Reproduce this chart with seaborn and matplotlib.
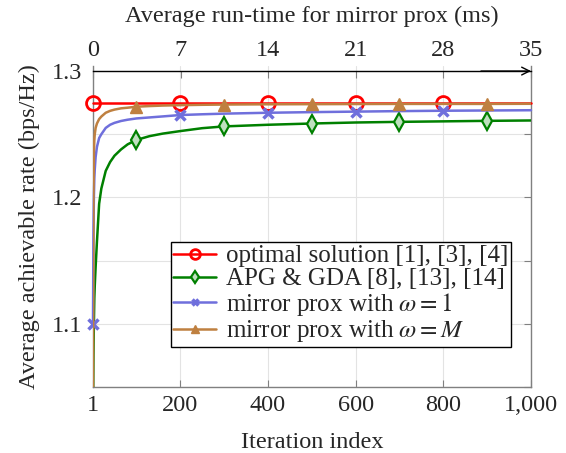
import numpy as np
import pandas as pd
import matplotlib
matplotlib.use("Agg")
import matplotlib.pyplot as plt
import seaborn as sns
from matplotlib.ticker import FixedLocator, FixedFormatter

# ---- data ----
iters = [1, 2, 3, 4, 5, 7, 10, 15, 20, 30, 40, 50, 65, 80, 100, 130, 160, 200,
         250, 300, 400, 500, 600, 700, 800, 900, 1000]
optimal = [1.2745] * len(iters)
apg_gda = [1.03, 1.075, 1.10, 1.12, 1.13, 1.145, 1.165, 1.195, 1.207, 1.221, 1.228,
           1.233, 1.238, 1.242, 1.2455, 1.2485, 1.2505, 1.2525, 1.2548, 1.2562,
           1.2575, 1.2585, 1.2593, 1.2598, 1.2602, 1.2606, 1.2609]
mp_w1 = [1.10, 1.17, 1.20, 1.215, 1.222, 1.232, 1.240, 1.247, 1.250, 1.255, 1.2575,
         1.259, 1.2605, 1.2615, 1.2625, 1.2633, 1.2641, 1.2652, 1.2658, 1.2663,
         1.2670, 1.2675, 1.2679, 1.2683, 1.2686, 1.2688, 1.2690]
mp_wM = [1.03, 1.20, 1.235, 1.245, 1.25, 1.255, 1.2585, 1.262, 1.264, 1.267, 1.2685,
         1.2695, 1.2705, 1.271, 1.2718, 1.2723, 1.2727, 1.2730, 1.2733, 1.2735,
         1.2737, 1.2738, 1.2739, 1.2740, 1.2740, 1.2740, 1.2741]
labels = ["optimal solution [1], [3], [4]",
          "APG & GDA [8], [13], [14]",
          r"mirror prox with $\omega = 1$",
          r"mirror prox with $\omega = M$"]
xticks = [1, 200, 400, 600, 800, 1000]
xticklabels = ["1", "200", "400", "600", "800", "1,000"]
yticks = [1.05, 1.10, 1.15, 1.20, 1.25, 1.30]
yticklabels = ["", "1.1", "", "1.2", "", "1.3"]
top_ticks = [0, 7, 14, 21, 28, 35]

# ---- style ----
sns.set_style("white")
plt.rcParams["font.family"] = ["Liberation Serif", "DejaVu Serif"]
plt.rcParams["mathtext.fontset"] = "stix"
FS = 17.5
plt.rcParams["font.size"] = FS

fig = plt.figure(figsize=(5.66, 4.53), dpi=100)
ax = fig.add_axes([93/566, 1-387/453, 438/566, 321/453])

df = pd.DataFrame({"iter": iters, "opt": optimal, "apg": apg_gda,
                   "w1": mp_w1, "wM": mp_wM})

def idx(vals):
    return [iters.index(v) for v in vals]

series = [
    ("opt", "#ff0000", dict(marker="o", ms=10, mfc="none", mew=2,
                             markevery=idx([1, 200, 400, 600, 800])), False),
    ("apg", "#008000", dict(marker="d", ms=9, mfc="#bfe0bf", mew=1.6,
                             markevery=idx([100, 300, 500, 700, 900])), True),
    ("w1", "#6f6fdc", dict(marker="x", ms=7, mew=2.5, mfc="#6f6fdc",
                            markevery=idx([1, 200, 400, 600, 800])), False),
    ("wM", "#bf8040", dict(marker="^", ms=9, mew=1, mfc="#bf8040",
                            markevery=idx([100, 300, 500, 700, 900])), True),
]
for (col, color, kw, clip), lab in zip(series, labels):
    n_before = len(ax.lines)
    sns.lineplot(data=df, x="iter", y=col, ax=ax, color=color, lw=1.8,
                 label=lab)
    line = ax.lines[n_before]
    line.set_linestyle("-")
    line.set_marker(kw["marker"])
    line.set_markersize(kw["ms"])
    line.set_markeredgewidth(kw["mew"])
    line.set_markeredgecolor(color)
    line.set_markerfacecolor(kw["mfc"])
    line.set_markevery(kw["markevery"])
    line.set_clip_on(clip)
    line.set_zorder(3)

ax.set_xlim(1, 1000)
ax.set_ylim(1.05, 1.304)
ax.xaxis.set_major_locator(FixedLocator(xticks))
ax.xaxis.set_major_formatter(FixedFormatter(xticklabels))
ax.yaxis.set_major_locator(FixedLocator(yticks))
ax.yaxis.set_major_formatter(FixedFormatter(yticklabels))
ax.set_xlabel("Iteration index", fontsize=FS, labelpad=11)
ax.set_ylabel("Average achievable rate (bps/Hz)", fontsize=FS, labelpad=8)
ax.grid(True, color="#e3e3e3", lw=0.8)
ax.tick_params(axis="both", direction="in", length=5, color="#808080",
               labelsize=FS, right=True, top=False, width=0.8)
ax.tick_params(axis="x", pad=6)
ax.tick_params(axis="y", pad=8)
for s in ["left", "right", "bottom"]:
    ax.spines[s].set_color("#808080")
    ax.spines[s].set_linewidth(1.0)
ax.spines["top"].set_visible(False)

handles, labs = ax.get_legend_handles_labels()
leg = ax.legend(handles, labs, loc="lower right", bbox_to_anchor=(0.954, 0.125),
                frameon=True, fancybox=False, edgecolor="black", framealpha=1,
                fontsize=18, handlelength=1.7, handletextpad=0.4,
                labelspacing=0.02, borderpad=0.1, borderaxespad=0,
                markerscale=0.7)
leg.get_frame().set_linewidth(1.0)
leg.set_zorder(5)

# top axis
ax2 = ax.twiny()
ax2.set_xlim(0, 35)
ax2.xaxis.set_major_locator(FixedLocator(top_ticks))
ax2.spines["top"].set_position(("data", 1.3))
for s in ["left", "right", "bottom"]:
    ax2.spines[s].set_visible(False)
ax2.spines["top"].set_color("black")
ax2.spines["top"].set_linewidth(1.0)
ax2.tick_params(axis="x", direction="in", length=5, color="#808080",
                labelsize=FS, pad=7, width=0.8)
ax2.set_xlabel("Average run-time for mirror prox (ms)", fontsize=FS, labelpad=13)
ax2.annotate("", xy=(35.0, 1.3), xytext=(31, 1.3), xycoords="data",
             arrowprops=dict(arrowstyle="->", color="black", lw=1.0,
                             mutation_scale=14, shrinkA=0, shrinkB=0),
             annotation_clip=False)

fig.savefig("out.png", dpi=100)
